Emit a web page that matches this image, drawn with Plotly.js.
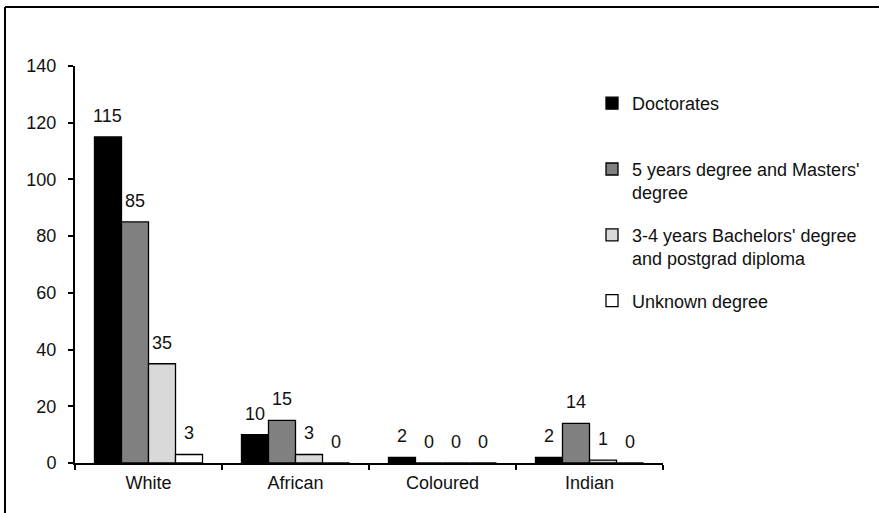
<!DOCTYPE html>
<html>
<head>
<meta charset="utf-8">
<script src="https://cdn.plot.ly/plotly-3.0.1.min.js"></script>
<style>
  html, body { margin: 0; padding: 0; background: #ffffff; }
  #chart { width: 879px; height: 513px; }
</style>
</head>
<body>
<div id="chart"></div>
<script>
// ---- data ----
const categories = ['White', 'African', 'Coloured', 'Indian'];
const doctorates = [115, 10, 2, 2];
const mastersDegree = [85, 15, 0, 14];
const bachelorsDegree = [35, 3, 0, 1];
const unknownDegree = [3, 0, 0, 0];
const seriesNames = [
  'Doctorates<br>&nbsp;',
  "5 years degree and Masters'<br>degree",
  "3-4 years Bachelors' degree<br>and postgrad diploma",
  'Unknown degree'
];
const seriesValues = [doctorates, mastersDegree, bachelorsDegree, unknownDegree];
const seriesColors = ['#000000', '#808080', '#d9d9d9', '#ffffff'];
const yTicks = [0, 20, 40, 60, 80, 100, 120, 140];

// ---- layout constants ----
const W = 879, H = 513;
const M = { l: 75, r: 216, t: 66, b: 50 };
const plotW = W - M.l - M.r;
const plotH = H - M.t - M.b;
const bargap = 0.265;
const FONT = 'Liberation Sans, Arial, sans-serif';
const FS = 18;
const TXT = '#111111';

const traces = seriesValues.map((vals, j) => ({
  type: 'bar',
  name: seriesNames[j],
  legendgroup: 'g' + j,
  x: categories,
  y: vals,
  marker: { color: seriesColors[j], line: { color: '#000000', width: 1.3 } },
  hoverinfo: 'x+y'
}));

// value labels above each bar, positioned through the category axis
const nS = seriesValues.length;
const bw = (1 - bargap) / nS;
const annotations = [];
seriesValues.forEach((vals, j) => {
  const off = -(1 - bargap) / 2 + bw * (j + 0.5);
  vals.forEach((v, i) => {
    annotations.push({
      xref: 'x', yref: 'y', x: i + off, y: v,
      text: String(v), showarrow: false,
      yanchor: 'middle', xanchor: 'center', yshift: 21,
      font: { family: FONT, size: FS, color: TXT }
    });
  });
});

// chart frame (left and top edges visible)
const px2paperX = p => (p - M.l) / plotW;
const py2paperY = p => (H - M.b - p) / plotH;
const shapes = [
  { type: 'line', xref: 'paper', yref: 'paper',
    x0: px2paperX(5), x1: px2paperX(5), y0: py2paperY(7), y1: py2paperY(H + 10),
    line: { color: '#000000', width: 2 } },
  { type: 'line', xref: 'paper', yref: 'paper',
    x0: px2paperX(5), x1: px2paperX(W + 10), y0: py2paperY(7), y1: py2paperY(7),
    line: { color: '#000000', width: 2 } }
];

const layout = {
  width: W, height: H,
  margin: { l: M.l, r: M.r, t: M.t, b: M.b, pad: 0 },
  paper_bgcolor: '#ffffff', plot_bgcolor: '#ffffff',
  font: { family: FONT, size: FS, color: TXT },
  barmode: 'group', bargap: bargap, bargroupgap: 0,
  showlegend: true,
  legend: {
    x: px2paperX(592), xanchor: 'left',
    y: py2paperY(85), yanchor: 'top',
    traceorder: 'grouped', tracegroupgap: 16,
    valign: 'top',
    font: { family: FONT, size: FS, color: TXT },
    bgcolor: 'rgba(0,0,0,0)', borderwidth: 0
  },
  xaxis: {
    type: 'category', range: [-0.5, 3.5],
    showline: true, linecolor: '#000000', linewidth: 2,
    ticks: 'outside', tickson: 'boundaries', ticklen: 5, tickwidth: 2, tickcolor: '#000000',
    showgrid: false, zeroline: false,
    ticklabelstandoff: 2,
    tickfont: { family: FONT, size: FS, color: TXT }
  },
  yaxis: {
    range: [0, 140], tickvals: yTicks,
    showline: true, linecolor: '#000000', linewidth: 2,
    ticks: 'outside', ticklen: 5, tickwidth: 2, tickcolor: '#000000',
    showgrid: false, zeroline: false,
    ticklabelstandoff: 8,
    tickfont: { family: FONT, size: FS, color: TXT }
  },
  annotations: annotations,
  shapes: shapes
};

Plotly.newPlot('chart', traces, layout, { displayModeBar: false, staticPlot: true });
</script>
</body>
</html>
